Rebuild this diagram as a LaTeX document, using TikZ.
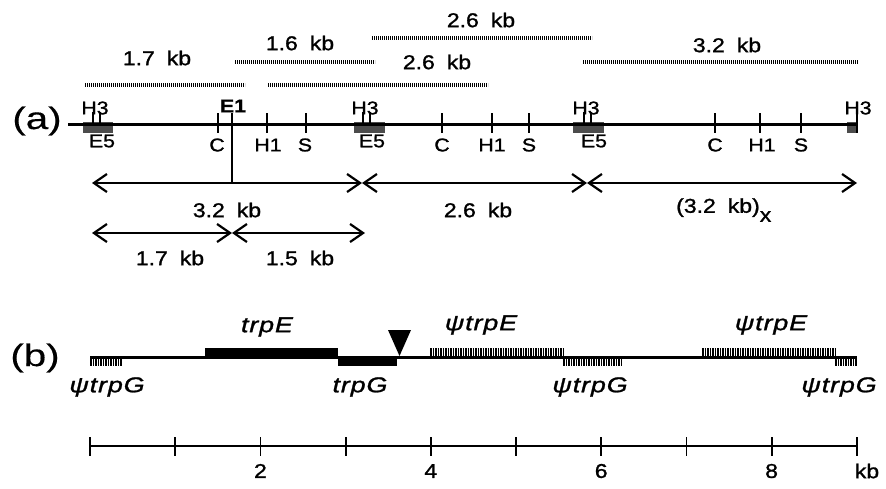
\documentclass[tikz,border=0pt]{standalone}
\usepackage{fontspec}
\setmainfont{Liberation Sans}[FakeStretch=1.15, FakeBold=1.2]
\newfontfamily\bigfont{Liberation Sans}[FakeStretch=1.3, FakeBold=0.4]
\newfontfamily\genefont{Liberation Sans}[FakeStretch=1.25, LetterSpace=4, FakeBold=1.2]
\usetikzlibrary{arrows.meta}
\newcommand{\kbsp}{\hspace{0.6em}}
\tikzset{
  kblab/.style={font=\fontsize{20}{22}\selectfont, inner sep=0pt},
  sitelab/.style={font=\fontsize{18.5}{20}\selectfont, inner sep=0pt},
  panellab/.style={font=\bigfont\fontsize{31}{33}\selectfont, inner sep=0pt},
  genelab/.style={font=\genefont\itshape\fontsize{21.5}{23}\selectfont, inner sep=0pt},
  fragline/.style={line width=3.5pt, dash pattern=on 1.2pt off 0.8pt, black},
  mapline/.style={line width=3pt},
  sitetick/.style={line width=1.8pt},
  ebox/.style={fill=black!70, draw=none},
  dimarrow/.style={line width=2.2pt, {Straight Barb[length=13pt,width=18pt]}-{Straight Barb[length=13pt,width=18pt]}},
  hatchbox/.style={line width=9pt, dash pattern=on 1.5pt off 1pt},
  solidbox/.style={fill=black, draw=none},
  scaletick/.style={line width=1.8pt},
}
\begin{document}
\begin{tikzpicture}[x=1pt,y=-1pt]
\useasboundingbox (0,0) rectangle (886,488);

% ---------- fragments at top ----------
\coordinate (f1a) at (85,85);  \coordinate (f1b) at (245,85);
\coordinate (f2a) at (235,62); \coordinate (f2b) at (375,62);
\coordinate (f3a) at (268,85); \coordinate (f3b) at (488,85);
\coordinate (f4a) at (372,38); \coordinate (f4b) at (592,38);
\coordinate (f5a) at (583,62); \coordinate (f5b) at (858,62);
\draw[fragline] (f1a) -- (f1b);
\draw[fragline] (f2a) -- (f2b);
\draw[fragline] (f3a) -- (f3b);
\draw[fragline] (f4a) -- (f4b);
\draw[fragline] (f5a) -- (f5b);
\node[kblab] (t1) at (157,58) {1.7\kbsp kb};
\node[kblab] (t2) at (300,43) {1.6\kbsp kb};
\node[kblab] (t3) at (437,62) {2.6\kbsp kb};
\node[kblab] (t4) at (481,20) {2.6\kbsp kb};
\node[kblab] (t5) at (727,45) {3.2\kbsp kb};

% ---------- map (a) ----------
\node[panellab] (pa) at (37,121) {(a)};
\coordinate (mapL) at (68,124); \coordinate (mapR) at (857,124);
\fill[ebox] (83,122) rectangle (113,133);
\fill[ebox] (354,122) rectangle (385,133);
\fill[ebox] (573,122) rectangle (604,133);
\fill[ebox] (847,122) rectangle (857,133);
\draw[mapline] (mapL) -- (mapR);
% H3 double ticks
\foreach \x in {93,100,363,370,584,591} \draw[sitetick] (\x,112) -- (\x,124);
\draw[sitetick] (857,112) -- (857,133);
% C, H1, S ticks
\foreach \x in {218,267,306,442,492,529,715,760,801} \draw[sitetick] (\x,113) -- (\x,133);
% labels
\node[sitelab] (h3a) at (95,108) {H3};
\node[sitelab] (h3b) at (365,108) {H3};
\node[sitelab] (h3c) at (586,108) {H3};
\node[sitelab] (h3d) at (858,108) {H3};
\node[sitelab] (e5a) at (102,141) {E5};
\node[sitelab] (e5b) at (372,141) {E5};
\node[sitelab] (e5c) at (594,141) {E5};
\node[sitelab] (ca) at (217,145) {C};
\node[sitelab] (cb) at (442,145) {C};
\node[sitelab] (cc) at (715,145) {C};
\node[sitelab] (h1a) at (268,145) {H1};
\node[sitelab] (h1b) at (492,145) {H1};
\node[sitelab] (h1c) at (762,145) {H1};
\node[sitelab] (sa) at (305,145) {S};
\node[sitelab] (sb) at (529,145) {S};
\node[sitelab] (sc) at (801,145) {S};
\node[sitelab, font=\bfseries\fontsize{18.5}{20}\selectfont] (e1) at (233,106) {E1};

% dimension arrows
\coordinate (d0) at (92,183); \coordinate (d1) at (362,183);
\coordinate (d2) at (587,183); \coordinate (d3) at (857,183);
\coordinate (e0) at (92,233); \coordinate (e1c) at (232,233); \coordinate (e2) at (365,233);
\coordinate (e1top) at (232,113); \coordinate (e1bot) at (232,183);
\draw[line width=2pt] (e1top) -- (e1bot);
\draw[dimarrow] (d0) -- (d1);
\draw[dimarrow] (d1) -- (d2);
\draw[dimarrow] (d2) -- (d3);
\draw[dimarrow] (e0) -- (e1c);
\draw[dimarrow] (e1c) -- (e2);
\node[kblab] (l32) at (227,210) {3.2\kbsp kb};
\node[kblab] (l26) at (478,210) {2.6\kbsp kb};
\node[kblab, anchor=west] (l32x) at (676,210) {(3.2\kbsp kb)\raisebox{-9pt}{x}};
\node[kblab] (l17) at (170,258) {1.7\kbsp kb};
\node[kblab] (l15) at (300,258) {1.5\kbsp kb};

% ---------- map (b) ----------
\node[panellab] (pb) at (35,358) {(b)};
\coordinate (bL) at (90,357); \coordinate (bR) at (857,357);
\fill[solidbox] (205,348) rectangle (338,357);
\fill[solidbox] (338,357) rectangle (397,366);
\draw[hatchbox] (90,361.5) -- (122,361.5);
\draw[hatchbox] (430,352.5) -- (563,352.5);
\draw[hatchbox] (563,361.5) -- (623,361.5);
\draw[hatchbox] (702,352.5) -- (835,352.5);
\draw[hatchbox] (835,361.5) -- (857,361.5);
\draw[mapline] (bL) -- (bR);
\fill (388,330) -- (411,330) -- (399.5,356) -- cycle;
\node[genelab] (gE) at (267,327) {trpE};
\node[genelab] (gG) at (360,387) {trpG};
\node[genelab] (pG1) at (107,387) {ψtrpG};
\node[genelab] (pE1) at (481,325) {ψtrpE};
\node[genelab] (pG2) at (590,387) {ψtrpG};
\node[genelab] (pE2) at (771,325) {ψtrpE};
\node[genelab] (pG3) at (839,387) {ψtrpG};

% ---------- scale ----------
\coordinate (sL) at (90,446); \coordinate (sR) at (856.8,446);
\draw[line width=2.5pt] (sL) -- (sR);
\foreach \i in {0,...,9} \draw[scaletick] ({90+85.2*\i},437) -- ({90+85.2*\i},456);
\node[kblab] (n2) at (260.4,471) {2};
\node[kblab] (n4) at (430.8,471) {4};
\node[kblab] (n6) at (601.2,471) {6};
\node[kblab] (n8) at (771.6,471) {8};
\node[kblab] (nkb) at (867,471) {kb};
\end{tikzpicture}
\end{document}
